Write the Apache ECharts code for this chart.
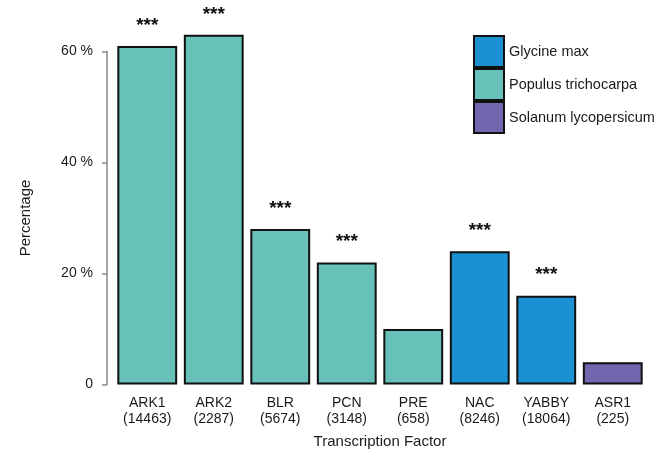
<!DOCTYPE html>
<html>
<head>
<meta charset="utf-8">
<script src="https://cdn.jsdelivr.net/npm/echarts@6/dist/echarts.min.js"></script>
<style>
  html, body { margin: 0; padding: 0; background: #fff; }
  #chart { width: 668px; height: 453px; }
</style>
</head>
<body>
<div id="chart"></div>
<script>
// transcription factors and their gene counts
var factors = ["ARK1", "ARK2", "BLR", "PCN", "PRE", "NAC", "YABBY", "ASR1"];
var counts = ["14463", "2287", "5674", "3148", "658", "8246", "18064", "225"];
var percent = [61, 63, 28, 22, 10, 24, 16, 4];
var species = ["Populus trichocarpa", "Populus trichocarpa", "Populus trichocarpa", "Populus trichocarpa",
  "Populus trichocarpa", "Glycine max", "Glycine max", "Solanum lycopersicum"];
var signif = ["***", "***", "***", "***", "", "***", "***", ""];
var speciesNames = ["Glycine max", "Populus trichocarpa", "Solanum lycopersicum"];
var speciesColors = ["#1b91d3", "#67c1b9", "#7067ae"];

var textColor = "#1a1a1a";
var font = "Liberation Sans";

var series = speciesNames.map(function (name, k) {
  return {
    name: name,
    type: "bar",
    stack: "all",
    clip: false, // ARK1/ARK2 go over the 60 % tick
    barCategoryGap: "10%",
    itemStyle: {
      color: speciesColors[k],
      borderColor: "#111",
      borderWidth: 2,
    },
    label: {
      show: true,
      position: "top",
      distance: 11,
      color: "#111",
      fontFamily: font,
      fontSize: 19,
      fontWeight: "bold",
      formatter: function (p) {
        return signif[p.dataIndex];
      },
    },
    data: percent.map(function (v, i) {
      return species[i] === name ? v : "-";
    }),
  };
});

var myChart = echarts.init(document.getElementById("chart"));
var option = {
  animation: false,
  grid: {
    left: 114,
    right: 22,
    top: 51.5,
    bottom: 68.5,
    outerBoundsMode: "none",
  },
  legend: {
    orient: "vertical",
    left: 473,
    top: 35,
    padding: 0,
    itemWidth: 30,
    itemHeight: 31,
    itemGap: 0,
    icon: "rect",
    data: speciesNames,
    textStyle: {
      fontFamily: font,
      fontSize: 14.5,
      color: textColor,
    },
  },
  xAxis: {
    type: "category",
    data: factors.map(function (f, i) {
      return f + "\n(" + counts[i] + ")";
    }),
    axisLine: { show: false },
    axisTick: { show: false },
    axisLabel: {
      margin: 11,
      fontFamily: font,
      fontSize: 14,
      lineHeight: 16,
      color: textColor,
      interval: 0,
    },
    name: "Transcription Factor",
    nameLocation: "middle",
    nameGap: 50,
    nameTextStyle: {
      fontFamily: font,
      fontSize: 15,
      color: textColor,
    },
  },
  yAxis: {
    type: "value",
    min: 0,
    max: 60,
    interval: 20,
    offset: 7,
    splitLine: { show: false },
    axisLine: {
      show: true,
      lineStyle: { color: "#888", width: 1.5 },
    },
    axisTick: {
      show: true,
      length: 5,
      lineStyle: { color: "#888", width: 1.5 },
    },
    axisLabel: {
      margin: 14,
      fontFamily: font,
      fontSize: 14,
      color: textColor,
      formatter: function (v) {
        return v === 0 ? "0" : v + " %";
      },
    },
    name: "Percentage",
    nameLocation: "middle",
    nameGap: 74,
    nameTextStyle: {
      fontFamily: font,
      fontSize: 15,
      color: textColor,
    },
  },
  series: series,
};
myChart.setOption(option);
</script>
</body>
</html>
